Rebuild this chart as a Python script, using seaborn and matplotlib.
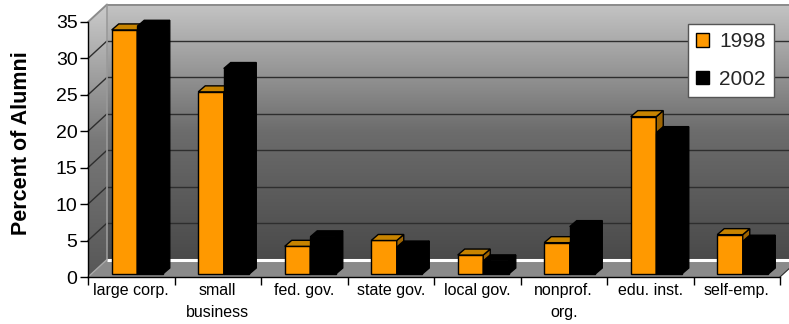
import numpy as np
import pandas as pd
import seaborn as sns
import matplotlib.pyplot as plt
from matplotlib.patches import Polygon, Patch
from matplotlib.transforms import IdentityTransform, ScaledTranslation
from matplotlib.colors import LinearSegmentedColormap

# ---- data -------------------------------------------------------------
sectors = ["large corp.", "small\nbusiness", "fed. gov.", "state gov.",
           "local gov.", "nonprof.\norg.", "edu. inst.", "self-emp."]
years = ["1998", "2002"]
pct_1998 = [33.5, 25.0, 3.8, 4.6, 2.6, 4.3, 21.6, 5.4]
pct_2002 = [34.0, 28.2, 5.1, 3.7, 1.8, 6.5, 19.4, 4.5]
yticks = [0, 5, 10, 15, 20, 25, 30, 35]

df = pd.DataFrame({
    "sector": sectors * 2,
    "pct": pct_1998 + pct_2002,
    "year": [years[0]] * len(sectors) + [years[1]] * len(sectors),
})

# ---- style ------------------------------------------------------------
sns.set_theme(style="white")
plt.rcParams["font.family"] = ["Liberation Sans", "DejaVu Sans"]

face = {"1998": "#FF9900", "2002": "#000000"}
top_face = {"1998": "#C88400", "2002": "#000000"}
side_face = {"1998": "#9E6400", "2002": "#000000"}

W, H, DPI = 789, 324, 100
WALL_DX, WALL_DY = 19, 17.5      # depth of the chart box (pixels)
BAR_DX, BAR_DY = 6, 3            # where the bar fronts sit inside the box
EXT_DX, EXT_DY = 7, 6            # bar extrusion depth

fig = plt.figure(figsize=(W / DPI, H / DPI), dpi=DPI)
fig.patch.set_facecolor("white")

# pixel canvas for the walls and floor
bg = fig.add_axes([0, 0, 1, 1], zorder=0)
bg.set_xlim(0, W)
bg.set_ylim(0, H)
bg.axis("off")

ax = fig.add_axes([88 / W, 47 / H, 692 / W, 255 / H], zorder=1)
ax.patch.set_alpha(0)

sns.barplot(data=df, x="sector", y="pct", hue="year", hue_order=years,
            palette=face, width=0.59, saturation=1, edgecolor="black",
            linewidth=1.0, ax=ax, legend=False)
ax.set_xlim(-0.5, len(sectors) - 0.5)
ax.set_ylim(0, 35)
fig.canvas.draw()


def px(x, y):
    return ax.transData.transform((x, y))


x_left, x_right = -0.5, len(sectors) - 0.5
fl = px(x_left, 0)
fr = px(x_right, 0)
tl = px(x_left, 35)
bl = fl + (WALL_DX, WALL_DY)
btl = tl + (WALL_DX, WALL_DY)
br = fr + (WALL_DX, WALL_DY)

# ---- back wall with vertical gradient ---------------------------------
grad = np.linspace(0, 1, 256).reshape(-1, 1)
wall_cmap = LinearSegmentedColormap.from_list("wall", ["#4A4A4A", "#6c6c6c", "#C4C4C4"])
side_cmap = LinearSegmentedColormap.from_list("side", ["#575757", "#787878", "#CBCBCB"])
bg.imshow(grad, cmap=wall_cmap, origin="lower", aspect="auto",
          extent=[bl[0], W + 30, bl[1], btl[1]], zorder=0, interpolation="bicubic")

# side wall
side_poly = Polygon([fl, tl, btl, bl], closed=True, facecolor="none", edgecolor="none")
bg.add_patch(side_poly)
im = bg.imshow(grad, cmap=side_cmap, origin="lower", aspect="auto",
               extent=[fl[0], bl[0], fl[1], btl[1]], zorder=0.5, interpolation="bicubic")
im.set_clip_path(side_poly)

# gridlines on back wall and side wall
for v in yticks[1:]:
    yv = px(0, v)[1]
    col = "#8c8c8c" if v == yticks[-1] else "#2e2e2e"
    lw = 1.4 if v == yticks[-1] else 1.0
    bg.plot([bl[0], W + 30], [yv + WALL_DY] * 2, color=col, lw=lw, zorder=1,
            solid_capstyle="butt")
    bg.plot([fl[0], bl[0]], [yv, yv + WALL_DY], color=col, lw=lw, zorder=1)

# back-left edge
bg.plot([bl[0], btl[0]], [bl[1], btl[1]], color="#9a9a9a", lw=1.2, zorder=1.2)

# floor
floor = Polygon([fl, fr, br, bl], closed=True, facecolor="#8A8A8A",
                edgecolor="none", zorder=2)
bg.add_patch(floor)
bg.plot([bl[0], W + 30], [bl[1], bl[1]], color="white", lw=2.2, zorder=2.1,
        solid_capstyle="butt")
bg.plot([fl[0], bl[0]], [fl[1], bl[1]], color="#a8a8a8", lw=1.0, zorder=2.2)
bg.plot([fr[0], br[0]], [fr[1], br[1]], color="#2a2a2a", lw=0.8, zorder=2.2)

# ---- 3D bars ----------------------------------------------------------
offset = ScaledTranslation(BAR_DX / DPI, BAR_DY / DPI, fig.dpi_scale_trans)
for k, (year, cont) in enumerate(zip(years, ax.containers)):
    z = 3 + k
    for bar in cont:
        bar.set_transform(ax.transData + offset)
        bar.set_zorder(z)
        x0, x1 = bar.get_x(), bar.get_x() + bar.get_width()
        yb, yt = 0, bar.get_height()
        p_tl = px(x0, yt) + (BAR_DX, BAR_DY)
        p_tr = px(x1, yt) + (BAR_DX, BAR_DY)
        p_br = px(x1, yb) + (BAR_DX, BAR_DY)
        d = np.array([EXT_DX, EXT_DY])
        top = Polygon([p_tl, p_tl + d, p_tr + d, p_tr], closed=True,
                      facecolor=top_face[year], edgecolor="black", lw=1.0,
                      transform=IdentityTransform(), zorder=z, clip_on=False)
        side = Polygon([p_br, p_tr, p_tr + d, p_br + d], closed=True,
                       facecolor=side_face[year], edgecolor="black", lw=1.0,
                       transform=IdentityTransform(), zorder=z, clip_on=False)
        ax.add_artist(side)
        ax.add_artist(top)

# ---- axes -------------------------------------------------------------
for s in ["top", "right"]:
    ax.spines[s].set_visible(False)
for s in ["left", "bottom"]:
    ax.spines[s].set_color("black")
    ax.spines[s].set_linewidth(1.0)
    ax.spines[s].set_zorder(5)

ax.set_yticks(yticks)
ax.tick_params(axis="y", direction="out", length=6, width=1, color="black",
               labelsize=14, pad=1.5, left=True)
ax.set_xticks(range(len(sectors)))
ax.set_xticklabels(sectors)
ax.set_xticks(np.arange(len(sectors) + 1) - 0.5, minor=True)
ax.tick_params(axis="x", which="major", length=0, labelsize=11.5, pad=4.5)
ax.tick_params(axis="x", which="minor", direction="out", length=5.8, width=1,
               color="black", bottom=True)
for t in ax.get_xticklabels():
    t.set_linespacing(1.6)
for t in ax.get_yticklabels() + ax.get_xticklabels():
    t.set_color("black")

ax.set_xlabel("")
ax.set_ylabel("Percent of Alumni", fontsize=15.5, fontweight="bold", color="black")
ax.yaxis.set_label_coords(-0.081, 0.525)

handles = [Patch(facecolor=face[y], edgecolor="black", lw=1.0) for y in years]
leg = ax.legend(handles, years, loc="upper right",
                bbox_to_anchor=(774 / W, 1 - 24 / H), bbox_transform=fig.transFigure,
                borderaxespad=0, fontsize=15, frameon=True, fancybox=False,
                edgecolor="#555555", facecolor="white", framealpha=1,
                handlelength=0.6, handleheight=0.6, handletextpad=0.5,
                labelspacing=0.9, borderpad=0.4)
leg.get_frame().set_linewidth(1.0)
leg.set_zorder(10)

fig.savefig("out.png", dpi=DPI)
